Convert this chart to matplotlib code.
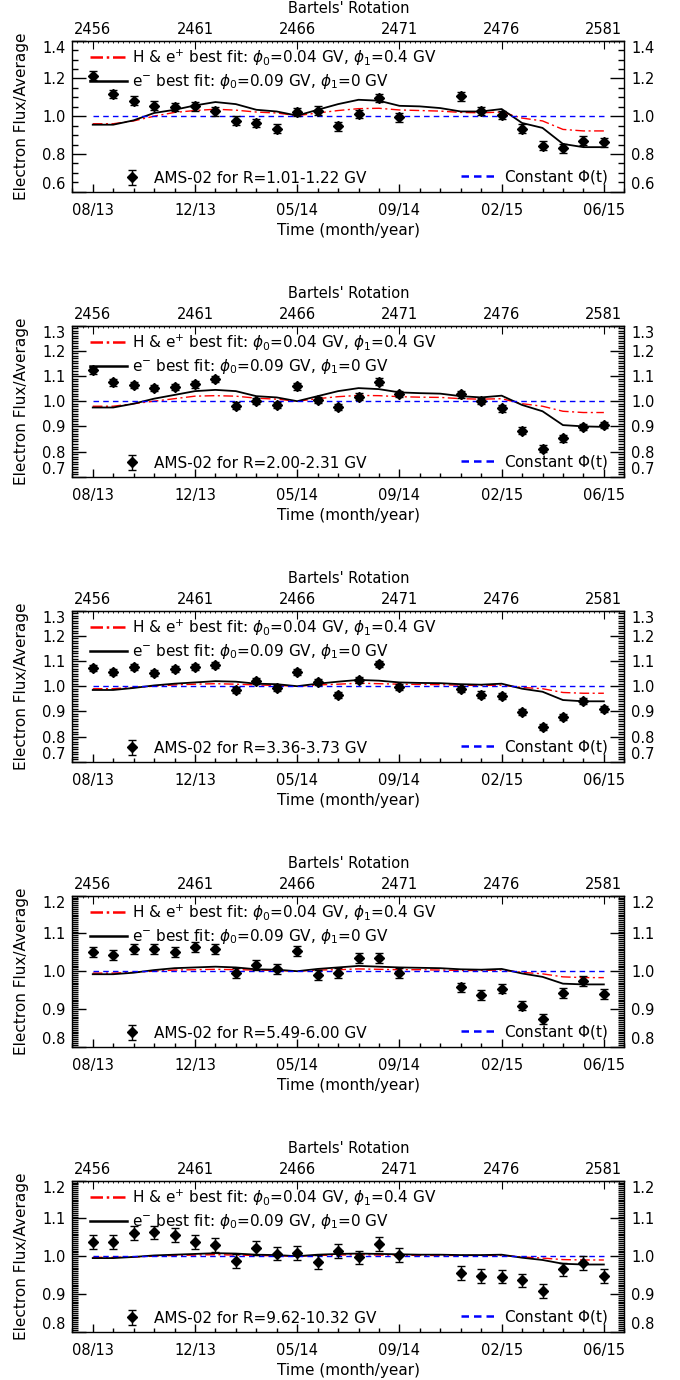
import numpy as np
import matplotlib.pyplot as plt
from matplotlib.ticker import MultipleLocator
from matplotlib.lines import Line2D

plt.rcParams['font.family'] = 'DejaVu Sans'
plt.rcParams['mathtext.fontset'] = 'dejavusans'

# Bartels rotation number of each point (x axis)
rotation = np.arange(2456, 2482)
top_ticks = [2456, 2461, 2466, 2471, 2476, 2481]
top_labels = ['2456', '2461', '2466', '2471', '2476', '2581']
bottom_labels = ['08/13', '12/13', '05/14', '09/14', '02/15', '06/15']

nan = np.nan
rig_ranges = ['1.01-1.22', '2.00-2.31', '3.36-3.73', '5.49-6.00', '9.62-10.32']

# AMS-02 electron flux / average (rotations 2472, 2473 missing)
ams1 = [1.214, 1.117, 1.082, 1.055, 1.048, 1.052, 1.025, 0.976, 0.964, 0.934, 1.022, 1.029, 0.946,
        1.011, 1.096, 0.994, nan, nan, 1.105, 1.027, 1.006, 0.934, 0.843, 0.830, 0.871, 0.862]
ams2 = [1.122, 1.075, 1.064, 1.053, 1.057, 1.067, 1.088, 0.982, 1.000, 0.985, 1.059, 1.004, 0.977,
        1.018, 1.078, 1.029, nan, nan, 1.027, 1.000, 0.971, 0.883, 0.812, 0.852, 0.898, 0.905]
ams3 = [1.073, 1.058, 1.078, 1.052, 1.069, 1.078, 1.086, 0.986, 1.019, 0.992, 1.055, 1.018, 0.965,
        1.023, 1.089, 0.996, nan, nan, 0.989, 0.967, 0.962, 0.899, 0.838, 0.877, 0.941, 0.909]
ams4 = [1.050, 1.042, 1.058, 1.058, 1.051, 1.065, 1.059, 0.996, 1.016, 1.006, 1.054, 0.991, 0.996,
        1.034, 1.035, 0.995, nan, nan, 0.957, 0.938, 0.954, 0.909, 0.873, 0.942, 0.973, 0.939]
ams5 = [1.038, 1.038, 1.062, 1.063, 1.056, 1.038, 1.029, 0.987, 1.022, 1.007, 1.009, 0.985, 1.013,
        0.997, 1.032, 1.003, nan, nan, 0.956, 0.948, 0.946, 0.936, 0.908, 0.965, 0.982, 0.948]
ams_err = [0.023, 0.013, 0.012, 0.013, 0.018]

# e- best fit (black solid)
efit1 = [0.955, 0.955, 0.978, 1.017, 1.034, 1.057, 1.075, 1.064, 1.034, 1.025, 1.003, 1.034, 1.064,
         1.087, 1.082, 1.055, 1.052, 1.043, 1.025, 1.025, 1.038, 0.964, 0.938, 0.853, 0.836, 0.836]
efit2 = [0.975, 0.975, 0.990, 1.010, 1.025, 1.040, 1.045, 1.040, 1.020, 1.015, 1.000, 1.020, 1.040,
         1.052, 1.048, 1.035, 1.032, 1.030, 1.020, 1.015, 1.022, 0.985, 0.960, 0.905, 0.900, 0.898]
efit3 = [0.985, 0.985, 0.993, 1.003, 1.010, 1.015, 1.020, 1.018, 1.010, 1.008, 1.000, 1.010, 1.018,
         1.025, 1.022, 1.015, 1.013, 1.012, 1.008, 1.006, 1.010, 0.990, 0.978, 0.945, 0.940, 0.940]
efit4 = [0.992, 0.992, 0.996, 1.003, 1.008, 1.010, 1.012, 1.010, 1.005, 1.004, 1.000, 1.006, 1.010,
         1.014, 1.012, 1.010, 1.009, 1.008, 1.005, 1.004, 1.006, 0.994, 0.985, 0.967, 0.965, 0.965]
efit5 = [0.995, 0.995, 0.998, 1.002, 1.004, 1.006, 1.008, 1.007, 1.004, 1.003, 1.000, 1.004, 1.006,
         1.007, 1.006, 1.005, 1.004, 1.004, 1.003, 1.003, 1.004, 0.996, 0.990, 0.980, 0.978, 0.978]

# H & e+ best fit (red dash-dot)
hfit1 = [0.960, 0.960, 0.975, 1.000, 1.020, 1.030, 1.037, 1.032, 1.022, 1.017, 1.003, 1.017, 1.030,
         1.040, 1.042, 1.033, 1.030, 1.027, 1.020, 1.018, 1.022, 0.990, 0.975, 0.930, 0.922, 0.922]
hfit2 = [0.980, 0.980, 0.990, 1.000, 1.010, 1.020, 1.022, 1.020, 1.012, 1.008, 1.000, 1.010, 1.018,
         1.023, 1.022, 1.018, 1.016, 1.015, 1.010, 1.008, 1.010, 0.990, 0.980, 0.960, 0.955, 0.955]
hfit3 = [0.990, 0.990, 0.995, 1.000, 1.005, 1.008, 1.010, 1.008, 1.005, 1.003, 1.000, 1.005, 1.008,
         1.012, 1.010, 1.008, 1.007, 1.006, 1.004, 1.003, 1.004, 0.995, 0.990, 0.975, 0.972, 0.972]
hfit4 = [0.995, 0.995, 0.997, 1.000, 1.003, 1.004, 1.005, 1.004, 1.003, 1.002, 1.000, 1.003, 1.004,
         1.006, 1.005, 1.004, 1.004, 1.003, 1.002, 1.002, 1.003, 0.997, 0.993, 0.985, 0.983, 0.983]
hfit5 = [0.997, 0.997, 0.998, 1.000, 1.002, 1.003, 1.004, 1.003, 1.002, 1.001, 1.000, 1.002, 1.003,
         1.004, 1.003, 1.003, 1.002, 1.002, 1.002, 1.002, 1.002, 0.998, 0.995, 0.991, 0.990, 0.990]

const_phi = [1.0] * 26

ams_all = [ams1, ams2, ams3, ams4, ams5]
efit_all = [efit1, efit2, efit3, efit4, efit5]
hfit_all = [hfit1, hfit2, hfit3, hfit4, hfit5]
ylims = [(0.6, 1.4), (0.7, 1.3), (0.7, 1.3), (0.8, 1.2), (0.8, 1.2)]
ymajor = [0.2, 0.1, 0.1, 0.1, 0.1]
yminor = [0.05, 0.01, 0.01, 0.005, 0.005]

fig = plt.figure(figsize=(6.8, 13.8), dpi=100)
W, H = 680., 1380.
fs = 11
tfs = 10.5

for i in range(5):
    top_px = 40.7 + 285 * i
    ax = fig.add_axes([72.3 / W, 1 - (top_px + 151) / H, 552 / W, 151 / H])

    ax.plot(rotation, hfit_all[i], color='red', lw=1.0, dashes=(7, 2.5, 1.5, 2.5))
    ax.plot(rotation, efit_all[i], color='black', lw=1.3)
    ax.plot(rotation, const_phi, color='blue', lw=1.0, dashes=(4, 3))
    eb = ax.errorbar(rotation, ams_all[i], yerr=ams_err[i], fmt='D', color='black', ms=5,
                     elinewidth=1.0, capsize=2.8, capthick=1.0)

    ax.set_xlim(2455, 2482)
    ax.set_xticks(top_ticks)
    ax.set_xticklabels(bottom_labels)
    ax.xaxis.set_minor_locator(MultipleLocator(1))
    ax.set_yticks(np.round(np.arange(ylims[i][0], ylims[i][1] + 1e-6, ymajor[i]), 2))
    ax.set_ylim(*ylims[i])
    ax.yaxis.set_minor_locator(MultipleLocator(yminor[i]))
    ax.yaxis.set_major_formatter(plt.FormatStrFormatter('%.1f'))
    ax.tick_params(which='both', direction='in', top=False, right=True, labelright=True,
                   labelsize=tfs, width=1.0)
    ax.tick_params(axis='x', which='major', length=6, pad=8)
    ax.tick_params(axis='x', which='minor', length=3)
    ax.tick_params(axis='y', which='major', length=10, pad=5)
    ax.tick_params(axis='y', which='minor', length=4)
    for sp in ax.spines.values():
        sp.set_linewidth(1.0)

    # keep end labels inside the frame, like the original
    yt = ax.yaxis.get_major_ticks()
    yt[0].label1.set_va('bottom')
    yt[0].label2.set_va('bottom')
    yt[-1].label1.set_va('top')
    yt[-1].label2.set_va('top')

    ax.set_ylabel('Electron Flux/Average', fontsize=fs, labelpad=9)
    ax.set_xlabel('Time (month/year)', fontsize=fs, labelpad=4)

    sec = ax.secondary_xaxis('top')
    sec.set_xticks(top_ticks)
    sec.set_xticklabels(top_labels)
    sec.xaxis.set_minor_locator(MultipleLocator(0.25))
    sec.tick_params(which='major', direction='in', length=6, labelsize=tfs, pad=3)
    sec.tick_params(which='minor', direction='in', length=1.5)
    sec.set_xlabel("Bartels' Rotation", fontsize=tfs, labelpad=6)

    h_red = Line2D([], [], color='red', lw=1.8, dashes=(5, 1.5, 1, 1.5))
    h_blk = Line2D([], [], color='black', lw=1.8)
    h_blu = Line2D([], [], color='blue', lw=1.8, dashes=(3, 2))
    leg1 = ax.legend([h_red, h_blk],
                     [r'H & e$^{+}$ best fit: $\phi_0$=0.04 GV, $\phi_1$=0.4 GV',
                      r'e$^{-}$ best fit: $\phi_0$=0.09 GV, $\phi_1$=0 GV'],
                     loc='upper left', bbox_to_anchor=(0.032, 0.955), frameon=False,
                     fontsize=fs, handlelength=2.4, handletextpad=0.35, labelspacing=0.28,
                     borderaxespad=0, borderpad=0)
    ax.add_artist(leg1)
    leg2 = ax.legend([eb], ['AMS-02 for R=' + rig_ranges[i] + ' GV'], loc='lower left',
                     bbox_to_anchor=(0.095, 0.04), frameon=False, fontsize=fs,
                     handlelength=1.0, handletextpad=0.9, borderaxespad=0, borderpad=0)
    ax.add_artist(leg2)
    ax.legend([h_blu], [r'Constant $\Phi$(t)'], loc='lower right',
              bbox_to_anchor=(0.97, 0.04), frameon=False, fontsize=fs,
              handlelength=2.4, handletextpad=0.4, borderaxespad=0, borderpad=0)

fig.savefig('out.png', dpi=100)
